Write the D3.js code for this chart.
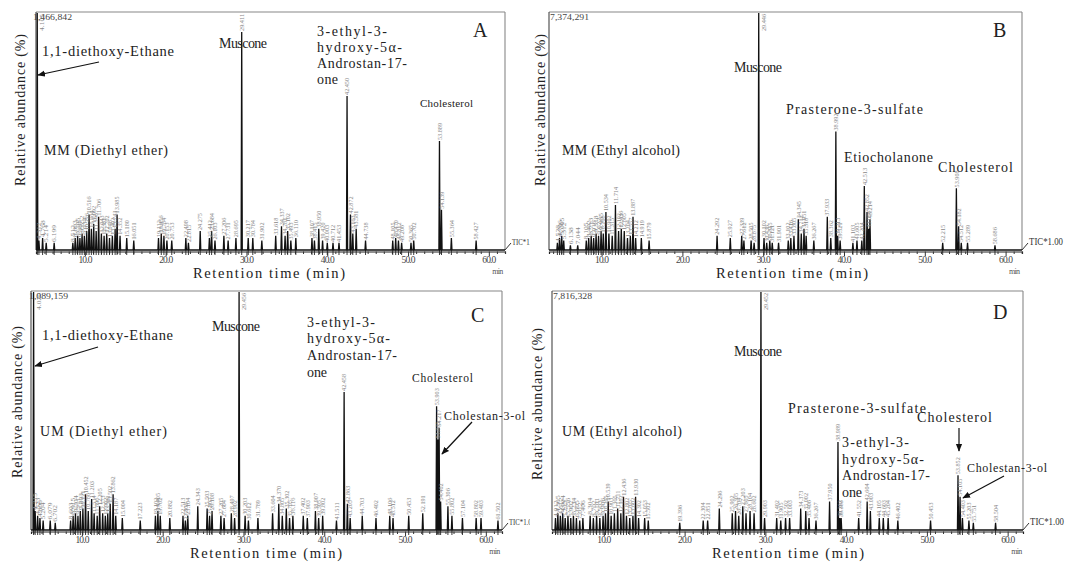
<!DOCTYPE html>
<html><head><meta charset="utf-8">
<script src="https://cdn.jsdelivr.net/npm/d3@7"></script>
<style>
html,body{margin:0;padding:0;background:#fff;}
svg{display:block;}
text{font-family:"Liberation Serif","DejaVu Serif",serif;}
</style></head><body>
<svg id="chart" width="1067" height="562"></svg>
<script>
// ---------------- data ----------------
const xTickValues = [10, 20, 30, 40, 50, 60];
const panelLetters = ["A", "B", "C", "D"];
const maxIntensity = ["1,466,842", "7,374,291", "1,089,159", "7,816,328"];
const sampleLabels = ["MM (Diethyl ether)", "MM (Ethyl alcohol)", "UM (Diethyl ether)", "UM (Ethyl alcohol)"];
const ticLabel = "TIC*1.00";
const xTitle = "Retention time (min)";
const yTitle = "Relative abundance (%)";

// [retention time (min), relative abundance (%)]
const peaksA = [
  [4.105,100],[4.312,4],[4.768,5],[5.214,3],[6.199,3],
  [8.512,3],[8.803,5],[9.105,6],[9.387,5],[9.652,7],[9.934,6],[10.226,8],[10.516,15],[10.804,9],[11.092,11],[11.396,8],[11.706,14],[12.043,7],[12.381,6],[12.702,7],[13.048,5],[13.402,6],[13.743,9],[13.985,15],[14.352,6],[15.180,5],[16.051,4],
  [19.112,5],[19.456,7],[19.784,6],[20.153,4],[20.753,4],[22.498,5],[22.815,3],[24.275,8],[25.412,5],[25.684,8],[26.103,4],[27.206,6],[27.731,4],[28.695,5],
  [29.411,92],[30.217,5],[30.784,5],[31.902,4],[33.618,6],[34.337,10],[34.781,6],[35.102,8],[35.493,4],[36.110,5],[38.107,5],[38.415,4],[38.950,9],[39.420,4],[40.003,3],[40.712,3],[41.453,3],
  [42.450,65],[42.872,15],[43.163,7],[43.581,9],[44.738,4],
  [48.105,4],[48.470,5],[48.812,4],[49.206,3],[50.365,3],[50.702,4],
  [53.889,46],[54.139,17],[55.364,5],[58.427,4]
];
const peaksB = [
  [4.528,3],[4.796,5],[5.065,6],[5.312,4],[6.138,2],[7.044,2],
  [8.105,4],[8.402,5],[8.713,6],[9.016,5],[9.318,7],[9.622,6],[9.935,8],[10.208,7],[10.534,16],[10.902,7],[11.315,6],[11.714,19],[12.102,8],[12.436,9],[12.805,8],[13.204,5],[13.557,6],[13.887,14],[14.212,5],[14.919,5],[15.879,4],
  [24.292,6],[25.927,5],[27.339,6],[27.612,4],[28.505,4],[28.875,3],
  [29.446,100],[30.102,5],[30.436,3],[30.815,4],[31.121,3],[31.901,3],[33.102,4],[33.416,5],[33.805,6],[34.345,13],[34.712,7],[35.051,9],[35.318,6],[36.267,4],[37.933,14],[38.362,5],
  [38.992,50],[39.213,6],[39.521,4],[41.103,3],[41.605,4],[42.204,4],
  [42.513,27],[42.852,16],[43.056,9],[43.214,13],
  [52.215,3],[53.908,26],[54.182,10],[54.512,3],[55.289,3],[58.686,2]
];
const peaksC = [
  [4.020,100],[4.215,8],[4.523,6],[4.806,5],[5.204,4],[6.079,4],[6.702,3],
  [8.603,4],[8.915,6],[9.204,7],[9.511,6],[9.803,8],[10.121,9],[10.452,15],[10.786,8],[11.203,13],[11.514,7],[11.896,6],[12.205,10],[12.573,7],[12.902,6],[13.201,7],[13.502,11],[13.862,15],[14.187,6],[15.004,5],[17.223,4],
  [19.102,6],[19.405,8],[19.702,6],[20.882,5],[22.513,6],[22.806,4],[23.104,6],[24.343,10],[25.503,9],[25.807,6],[26.108,8],[27.205,6],[27.604,5],[28.497,7],[28.902,5],
  [29.456,100],[30.203,6],[30.612,4],[31.789,5],[33.604,7],[34.370,11],[34.805,6],[35.302,9],[35.705,5],[36.116,6],[37.402,6],[37.903,5],[38.907,8],[39.305,5],[39.802,6],[41.511,4],
  [42.458,58],[42.863,11],[43.205,5],[44.703,6],[46.402,5],[48.106,6],[48.512,5],[50.453,6],[52.191,7],
  [53.903,52],[54.065,38],[54.217,43],[54.402,12],[55.306,10],[55.802,6],[57.104,5],[58.802,5],[59.403,5],[61.502,4]
];
const peaksD = [
  [4.012,5],[4.305,7],[4.612,6],[4.904,7],[5.213,5],[5.556,6],[5.902,5],[6.234,6],[6.605,5],[7.012,4],[7.406,5],
  [8.304,6],[8.702,5],[9.101,6],[9.503,5],[9.906,6],[10.205,7],[10.539,12],[10.903,6],[11.305,7],[11.711,9],[12.102,7],[12.436,14],[12.802,6],[13.205,5],[13.602,6],[13.930,14],[14.302,5],[15.053,5],[15.502,4],
  [19.396,3],[22.304,4],[22.851,4],[24.296,9],[25.902,7],[26.305,8],[26.704,6],[27.203,10],[27.605,7],[28.104,8],[28.602,7],
  [29.452,100],[29.903,5],[31.402,5],[31.905,4],[32.502,5],[33.003,5],[34.373,9],[35.002,8],[35.406,5],[36.267,4],[37.950,12],
  [38.989,37],[39.202,5],[39.383,5],[41.552,5],[42.604,12],[43.003,8],[44.105,5],[44.603,5],[45.204,5],[46.402,4],[50.453,4],
  [53.852,23],[54.105,14],[54.403,5],[55.203,4],[55.751,3],[58.504,3]
];
const allPeaks = [peaksA, peaksB, peaksC, peaksD];

// ---------------- layout ----------------
const layout = [
  {left:36,  right:505,  top:12,  base:250, t0:3.95, t1:62.0,  yLabX:25,  yLabY:110, xTitleX:269, left_panel:true},
  {left:549, right:1022, top:12,  base:250, t0:3.49, t1:62.03, yLabX:545, yLabY:110, xTitleX:792, left_panel:false},
  {left:31,  right:502,  top:291, base:530, t0:3.70, t1:62.0,  yLabX:22,  yLabY:402, xTitleX:266, left_panel:true},
  {left:552, right:1023, top:291, base:530, t0:3.58, t1:61.9,  yLabX:542, yLabY:404, xTitleX:788, left_panel:false}
];

// compound annotations: text, x, baseline y, font size, rendered width
const notes = [
  [ ["1,1-diethoxy-Ethane",42,56,14.5,132], ["Muscone",219,48,14,48],
    ["3-ethyl-3-",317,36,14,70], ["hydroxy-5α-",317,52,14,85], ["Androstan-17-",317,68,14,90], ["one",317,84,14,21],
    ["Cholesterol",420,107,11,53] ],
  [ ["Muscone",734,72,14,48], ["Prasterone-3-sulfate",786,114,14,137],
    ["Etiocholanone",844,162,14,89], ["Cholesterol",938,172,14,75] ],
  [ ["1,1-diethoxy-Ethane",42,340,14.5,131], ["Muscone",212,331,14,48],
    ["3-ethyl-3-",307,327,14,68], ["hydroxy-5α-",307,343,14,83], ["Androstan-17-",307,360,14,90], ["one",307,377,14,20],
    ["Cholesterol",412,382,11.5,61], ["Cholestan-3-ol",444,420,12,81] ],
  [ ["Muscone",734,356,14,48], ["Prasterone-3-sulfate",788,413,14,138], ["Cholesterol",917,422,14,75],
    ["3-ethyl-3-",842,447,14,67], ["hydroxy-5α-",842,464,14,82], ["Androstan-17-",842,480,14,88], ["one",842,497,14,20],
    ["Cholestan-3-ol",967,472,12,80] ]
];
const arrows = [
  [[99,62,38,75]],
  [],
  [[98,347,35,366],[472,422,442,454]],
  [[959,428,959,451],[1004,476,963,498]]
];
const sampleLabelPos = [[44,155,124],[562,155,118],[40,436,127],[562,436,120]];
const letterPos = [[473,37],[993,37],[471,322],[993,319]];

// ---------------- drawing ----------------
const svg = d3.select("#chart");
const defs = svg.append("defs");
defs.append("marker").attr("id","arr").attr("viewBox","0 0 10 10")
  .attr("refX",9).attr("refY",5).attr("markerWidth",6.5).attr("markerHeight",6.5)
  .attr("orient","auto").append("path").attr("d","M0,1L10,5L0,9z").attr("fill","#111");
defs.append("clipPath").attr("id","leftclip").append("rect")
  .attr("x",0).attr("y",0).attr("width",530).attr("height",562);

function txt(g, str, x, y, size, width, fill, adjust) {
  const t = g.append("text").attr("x",x).attr("y",y)
    .attr("font-size",size).attr("fill",fill || "#222").text(str);
  if (width) t.attr("textLength",width).attr("lengthAdjust",adjust || "spacing");
  return t;
}

layout.forEach((L, i) => {
  const g = svg.append("g");
  const peaks = allPeaks[i].slice().sort((a,b) => a[0]-b[0]);
  const x = d3.scaleLinear().domain([L.t0, L.t1]).range([L.left, L.right]);
  const y = d3.scaleLinear().domain([0, 100]).range([L.base, L.top + 1]);

  // frame
  g.append("line").attr("x1",L.left).attr("x2",L.right).attr("y1",L.top).attr("y2",L.top)
    .attr("stroke","#888").attr("stroke-width",1.1);
  g.append("line").attr("x1",L.right).attr("x2",L.right).attr("y1",L.top).attr("y2",L.base)
    .attr("stroke","#888").attr("stroke-width",1.1);
  g.append("line").attr("x1",L.left).attr("x2",L.left).attr("y1",L.top).attr("y2",L.base)
    .attr("stroke","#444").attr("stroke-width",1.1);

  // x axis
  const minor = d3.range(Math.ceil(L.t0), Math.floor(L.t1) + 1);
  const axis = d3.axisBottom(x).tickValues(minor).tickSizeOuter(0).tickSize(2.5)
    .tickFormat(d => xTickValues.includes(d) ? d.toFixed(1) : "");
  const ag = g.append("g").attr("transform",`translate(0,${L.base + 1.5})`).call(axis);
  ag.select(".domain").attr("stroke","#222").attr("stroke-width",1.2);
  ag.selectAll(".tick line").attr("stroke","#333");
  ag.selectAll(".tick").filter(d => xTickValues.includes(d)).select("line").attr("y2",4.5);
  ag.selectAll(".tick text").attr("font-family","Liberation Serif, serif").attr("font-size",9.5)
    .attr("fill","#444").attr("y",5).each(function(d){
      if (xTickValues.includes(d)) d3.select(this).attr("textLength",14).attr("lengthAdjust","spacing");
    });
  txt(g, "min", x(60) + 9, L.base + 24, 8, 11, "#555").attr("text-anchor","middle");

  // integration markers under each peak
  g.append("g").selectAll("line").data(peaks).join("line")
    .attr("x1",d => x(d[0])).attr("x2",d => x(d[0]))
    .attr("y1",L.base).attr("y2",L.base + 5)
    .attr("stroke","#222").attr("stroke-width",0.9);

  // chromatogram trace
  const w = 0.07;
  const pts = [[L.t0, 0]];
  peaks.forEach(([t,h]) => { pts.push([t - w, 0], [t, h], [t + w, 0]); });
  pts.push([L.t1, 0]);
  const line = d3.line().x(d => x(d[0])).y(d => y(Math.min(d[1], 100)));
  g.append("path").datum(pts).attr("d", line).attr("fill","none")
    .attr("stroke","#111").attr("stroke-width",1.3).attr("stroke-linejoin","miter");

  // retention time labels
  g.append("g").selectAll("text").data(peaks).join("text")
    .attr("font-size",6.5).attr("fill","#888")
    .attr("textLength",17).attr("lengthAdjust","spacingAndGlyphs")
    .attr("text-anchor", d => d[1] >= 99 ? "end" : "start")
    .attr("transform", d => {
      const px = x(d[0]) + (d[1] >= 99 ? 7 : 2.2);
      const py = d[1] >= 99 ? L.top + 2 : y(d[1]) - 1;
      return `translate(${px},${py}) rotate(-90)`;
    })
    .text(d => d[0].toFixed(3));

  // max intensity
  txt(g, maxIntensity[i], i === 2 ? 29 : (i === 0 ? 33 : L.left + 1), L.top + 8, 8.5, 39, "#444", "spacingAndGlyphs");

  // TIC label
  g.append("line").attr("x1",L.right).attr("y1",L.base).attr("x2",L.right + 6).attr("y2",L.base - 7)
    .attr("stroke","#333").attr("stroke-width",1);
  const tic = txt(g, ticLabel, L.right + 7, L.base - 5, L.left_panel ? 8 : 9.5, L.left_panel ? 26 : 34, "#333", "spacingAndGlyphs");
  if (L.left_panel) tic.attr("clip-path","url(#leftclip)");

  // axis titles
  txt(g, xTitle, L.xTitleX, L.base + 28, 14.5, 152, "#222").attr("text-anchor","middle");
  txt(g, yTitle, 0, 0, 14, 152, "#222").attr("text-anchor","middle")
    .attr("transform",`translate(${L.yLabX},${L.yLabY}) rotate(-90)`);

  // compound annotations
  notes[i].forEach(([t, nx, ny, s, nw]) => txt(g, t, nx, ny, s, nw, "#222"));
  arrows[i].forEach(([x1,y1,x2,y2]) => {
    g.append("line").attr("x1",x1).attr("y1",y1).attr("x2",x2).attr("y2",y2)
      .attr("stroke","#111").attr("stroke-width",1.2).attr("marker-end","url(#arr)");
  });
  const sp = sampleLabelPos[i];
  txt(g, sampleLabels[i], sp[0], sp[1], 14, sp[2], "#222");

  // panel letter
  g.append("text").attr("x",letterPos[i][0]).attr("y",letterPos[i][1])
    .attr("font-size",20).attr("fill","#222")
    .text(panelLetters[i]);
});
</script>
</body></html>
